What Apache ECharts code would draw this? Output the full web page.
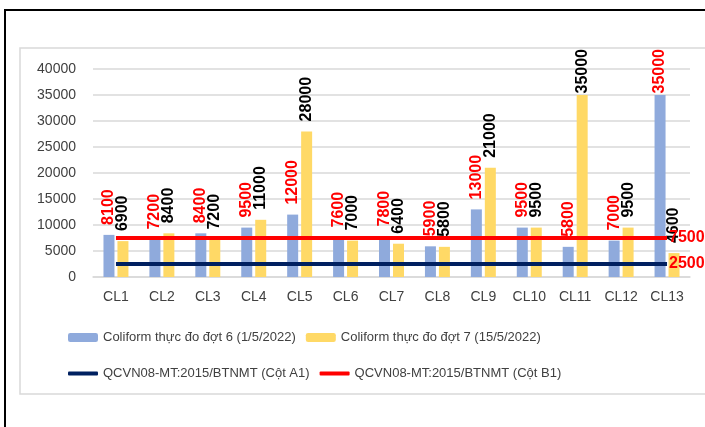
<!DOCTYPE html>
<html>
<head>
<meta charset="utf-8">
<script src="https://cdn.jsdelivr.net/npm/echarts@6/dist/echarts.min.js"></script>
<style>
  html, body { margin: 0; padding: 0; background: #fff; }
  #chart { width: 705px; height: 427px; }
</style>
</head>
<body>
<div id="chart"></div>
<script>
// Coliform - đợt 6 và đợt 7
var categories = ['CL1', 'CL2', 'CL3', 'CL4', 'CL5', 'CL6', 'CL7', 'CL8', 'CL9', 'CL10', 'CL11', 'CL12', 'CL13'];
var dot6 = [8100, 7200, 8400, 9500, 12000, 7600, 7800, 5900, 13000, 9500, 5800, 7000, 35000];
var dot7 = [6900, 8400, 7200, 11000, 28000, 7000, 6400, 5800, 21000, 9500, 35000, 9500, 4600];
var cotA1 = [2500, 2500, 2500, 2500, 2500, 2500, 2500, 2500, 2500, 2500, 2500, 2500, 2500];
var cotB1 = [7500, 7500, 7500, 7500, 7500, 7500, 7500, 7500, 7500, 7500, 7500, 7500, 7500];

var seriesNames = [
    'Coliform thực đo đợt 6 (1/5/2022)',
    'Coliform thực đo đợt 7 (15/5/2022)',
    'QCVN08-MT:2015/BTNMT (Cột A1)',
    'QCVN08-MT:2015/BTNMT (Cột B1)'
];

(function () {
    var font = '"Liberation Sans", Arial, sans-serif';
    var chart = echarts.init(document.getElementById('chart'));

    function barLabel(color) {
        return {
            show: true,
            position: 'top',
            rotate: 90,
            align: 'left',
            verticalAlign: 'middle',
            distance: 10,
            color: color,
            fontSize: 16,
            fontWeight: 'bold',
            fontFamily: font
        };
    }

    // keep labels inside the plot frame (like Excel does)
    // label is rotated 90deg, so its local x runs upwards on screen
    function clampTop(p) {
        var top = p.labelRect.y;
        if (top < 49) {
            return { dx: top - 49 };
        }
    }

    var legendText = { color: '#404040', fontSize: 13, fontFamily: font };

    chart.setOption({
        backgroundColor: '#fff',
        animation: false,
        graphic: [
            {
                type: 'rect', z: -10,
                shape: { x: 5, y: 10, width: 720, height: 440 },
                style: { fill: '#fff', stroke: '#000', lineWidth: 2 }
            },
            {
                type: 'rect', z: -9,
                shape: { x: 20, y: 48, width: 700, height: 346 },
                style: { fill: 'none', stroke: '#d9d9d9', lineWidth: 1.5 }
            }
        ],
        legend: [
            {
                left: 63, top: 326,
                itemWidth: 30, itemHeight: 9, itemGap: 10,
                textStyle: legendText,
                data: [seriesNames[0], seriesNames[1]]
            },
            {
                left: 63, top: 362,
                itemWidth: 30, itemHeight: 4, itemGap: 10,
                textStyle: legendText,
                data: [
                    { name: seriesNames[2], icon: 'roundRect' },
                    { name: seriesNames[3], icon: 'roundRect' }
                ]
            }
        ],
        grid: { left: 93, right: 15, top: 69, bottom: 150 },
        xAxis: {
            type: 'category',
            data: categories,
            axisTick: { show: false },
            axisLine: { lineStyle: { color: '#d9d9d9', width: 1.5 } },
            axisLabel: { color: '#404040', fontSize: 14, fontFamily: font, margin: 13 }
        },
        yAxis: {
            type: 'value',
            min: 0, max: 40000, interval: 5000,
            axisLine: { show: false },
            axisTick: { show: false },
            splitLine: { lineStyle: { color: '#d9d9d9', width: 1.5 } },
            axisLabel: {
                color: '#404040', fontSize: 14, fontFamily: font, margin: 17,
                formatter: function (v) { return String(v); }
            }
        },
        series: [
            {
                name: seriesNames[0], type: 'bar', data: dot6,
                barWidth: 11, barGap: '27%',
                itemStyle: { color: '#8faadc' },
                label: barLabel('#ff0000'),
                labelLayout: clampTop
            },
            {
                name: seriesNames[1], type: 'bar', data: dot7,
                barWidth: 11,
                itemStyle: { color: '#ffd966' },
                label: barLabel('#000000'),
                labelLayout: clampTop
            },
            {
                name: seriesNames[2], type: 'line', data: cotA1,
                symbol: 'none', z: 5,
                itemStyle: { color: '#002060' },
                lineStyle: { color: '#002060', width: 4 },
                endLabel: {
                    show: true, distance: 2,
                    color: '#ff0000', fontSize: 16, fontWeight: 'bold', fontFamily: font,
                    formatter: function (p) { return p.value; }
                }
            },
            {
                name: seriesNames[3], type: 'line', data: cotB1,
                symbol: 'none', z: 5,
                itemStyle: { color: '#ff0000' },
                lineStyle: { color: '#ff0000', width: 4 },
                endLabel: {
                    show: true, distance: 2,
                    color: '#ff0000', fontSize: 16, fontWeight: 'bold', fontFamily: font,
                    formatter: function (p) { return p.value; }
                }
            }
        ]
    });
}());
</script>
</body>
</html>
